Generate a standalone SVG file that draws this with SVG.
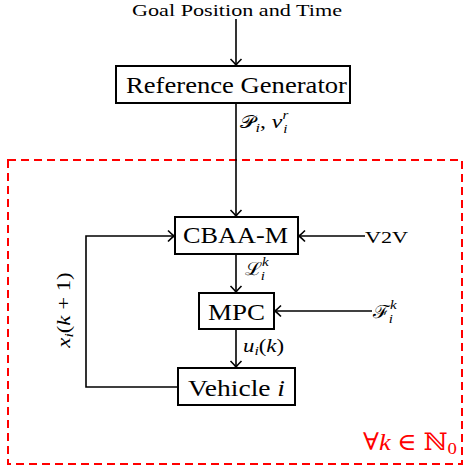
<svg xmlns="http://www.w3.org/2000/svg" width="463" height="470" viewBox="0 0 463 470">
<style>
.box{fill:#fff;stroke:#000;stroke-width:2}
.lbl{font-family:"Liberation Serif","DejaVu Serif",serif;fill:#000}
.big{font-size:23px}
.sm{font-size:17px}
.m{font-style:italic}
.conn{fill:none;stroke:#000;stroke-width:1.6}
</style>
<defs>
<marker id="arr" markerUnits="userSpaceOnUse" markerWidth="14" markerHeight="14" viewBox="-10 -7 12 14" refX="0" refY="0" orient="auto">
<path d="M-6,-5.5 Q-2,-1.5 0,0 Q-2,1.5 -6,5.5" fill="none" stroke="#000" stroke-width="1.6"/>
</marker>
</defs>
<rect id="loop" x="8" y="160" width="454" height="304" fill="none" stroke="#f00" stroke-width="2" stroke-dasharray="8,5"/>
<g id="connectors">
<line class="conn" x1="236" y1="19" x2="236" y2="65" marker-end="url(#arr)"/>
<line class="conn" x1="236" y1="103" x2="236" y2="216" marker-end="url(#arr)"/>
<line class="conn" x1="365" y1="236" x2="299" y2="236" marker-end="url(#arr)"/>
<line class="conn" x1="236" y1="254" x2="236" y2="292" marker-end="url(#arr)"/>
<line class="conn" x1="372" y1="311" x2="275" y2="311" marker-end="url(#arr)"/>
<line class="conn" x1="236" y1="329" x2="236" y2="367" marker-end="url(#arr)"/>
<polyline class="conn" points="178,387 86,387 86,236 174,236" marker-end="url(#arr)"/>
</g>
<g id="goal"><text class="lbl sm" x="132" y="16" textLength="210" lengthAdjust="spacingAndGlyphs">Goal Position and Time</text></g>
<g id="refgen">
<rect class="box" x="116" y="66" width="234" height="37"/>
<text class="lbl big" x="126" y="93" textLength="221" lengthAdjust="spacingAndGlyphs">Reference Generator</text>
</g>
<g id="label-p"><text class="lbl" font-size="19" transform="translate(240,128) scale(1.25,1)"><tspan font-family="DejaVu Serif" font-size="17">𝒫</tspan><tspan class="m" font-size="13" dy="4">i</tspan><tspan dy="-4">, </tspan><tspan class="m">v</tspan><tspan class="m" font-size="12" dy="-9">r</tspan><tspan class="m" font-size="12" dx="-4" dy="14">i</tspan></text></g>
<g id="cbaa">
<rect class="box" x="175" y="217" width="123" height="37"/>
<text class="lbl big" x="183" y="243" textLength="105" lengthAdjust="spacingAndGlyphs">CBAA-M</text>
</g>
<g id="v2v"><text class="lbl sm" x="365" y="243" textLength="43" lengthAdjust="spacingAndGlyphs">V2V</text></g>
<g id="label-l"><text class="lbl" font-size="18" transform="translate(245,275) scale(1.15,1)"><tspan>ℒ</tspan><tspan class="m" font-size="13" dy="-9">k</tspan><tspan class="m" font-size="13" dx="-7" dy="14">i</tspan></text></g>
<g id="mpc">
<rect class="box" x="199" y="293" width="75" height="36"/>
<text class="lbl big" x="208" y="320" textLength="57" lengthAdjust="spacingAndGlyphs">MPC</text>
</g>
<g id="label-f"><text class="lbl" font-size="18" transform="translate(373,318) scale(1.15,1)"><tspan>ℱ</tspan><tspan class="m" font-size="13" dy="-9">k</tspan><tspan class="m" font-size="13" dx="-7" dy="14">i</tspan></text></g>
<g id="label-u"><text class="lbl" font-size="19" transform="translate(243,352) scale(1.2,1)"><tspan class="m">u</tspan><tspan class="m" font-size="13" dy="3">i</tspan><tspan dy="-3">(</tspan><tspan class="m">k</tspan><tspan>)</tspan></text></g>
<g id="vehicle">
<rect class="box" x="178" y="368" width="117" height="37"/>
<text class="lbl big" x="188" y="396" textLength="97" lengthAdjust="spacingAndGlyphs">Vehicle <tspan class="m">i</tspan></text>
</g>
<g id="label-x"><text class="lbl" font-size="19" transform="translate(70,310) rotate(-90) scale(1.2,1)" text-anchor="middle"><tspan class="m">x</tspan><tspan class="m" font-size="13" dy="3">i</tspan><tspan dy="-3">(</tspan><tspan class="m">k</tspan><tspan> + 1)</tspan></text></g>
<g id="forall"><text class="lbl" x="363" y="450" font-size="24" style="fill:#f00" textLength="94" lengthAdjust="spacingAndGlyphs">∀<tspan class="m">k</tspan> ∈ ℕ<tspan font-size="17" dy="4">0</tspan></text></g>
</svg>
